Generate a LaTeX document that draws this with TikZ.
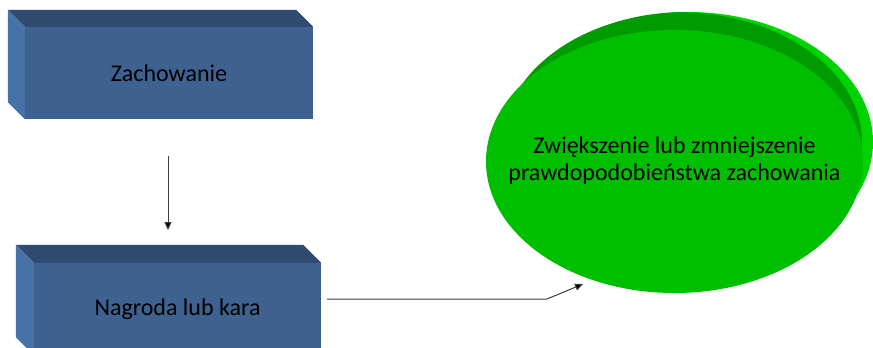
\documentclass[tikz,border=0pt]{standalone}
\usepackage{fontspec}
\setmainfont{Carlito}
\usetikzlibrary{arrows.meta,shapes.geometric}
\definecolor{bfront}{RGB}{62,97,143}
\definecolor{btop}{RGB}{47,75,112}
\definecolor{bleft}{RGB}{70,114,168}
\definecolor{gfront}{RGB}{0,190,0}
\definecolor{gtop}{RGB}{0,155,0}
\definecolor{gside}{RGB}{0,212,0}
\definecolor{arrgray}{RGB}{60,60,60}
\begin{document}
\begin{tikzpicture}[x=1pt,y=-1pt,
  boxfront/.style={fill=bfront, draw=none, minimum width=288pt, minimum height=92pt, inner sep=0pt, font=\fontsize{24}{28}\selectfont, text=black},
  topface/.style={fill=btop},
  leftface/.style={fill=bleft},
  conn/.style={draw=arrgray, line width=1pt, -{Triangle[length=8pt,width=7pt,fill=black]}},
  bubble/.style={ellipse, fill=gfront, draw=none, minimum width=377pt, minimum height=263pt, inner sep=0pt, outer sep=0pt, font=\fontsize{24}{28}\selectfont, text=black}]
\useasboundingbox (0,0) rectangle (873,348);
\clip (0,0) rectangle (873,348);
\fill[white] (0,0) rectangle (873,348);

% box 1
\node[boxfront] (b1) at (169,73) {Zachowanie};
\fill[topface] (b1.north west) -- ([shift={(-17,-17)}]b1.north west) -- ([shift={(-17,-17)}]b1.north east) -- (b1.north east) -- cycle;
\fill[leftface] (b1.north west) -- ([shift={(-17,-17)}]b1.north west) -- ([shift={(-17,-17)}]b1.south west) -- (b1.south west) -- cycle;

% box 2
\node[boxfront, minimum width=287pt] (b2) at (177.5,309) {Nagroda lub kara};
\fill[topface] (b2.north west) -- ([shift={(-18,-18)}]b2.north west) -- ([shift={(-18,-18)}]b2.north east) -- (b2.north east) -- cycle;
\fill[leftface] (b2.north west) -- ([shift={(-18,-18)}]b2.north west) -- ([shift={(-18,-18)}]b2.south west) -- (b2.south west) -- cycle;

% ellipse with depth
\fill[gside] (688,142) ellipse [x radius=185pt, y radius=130pt];
\begin{scope}
  \clip (688,142) ellipse [x radius=185pt, y radius=130pt];
  \fill[gtop] (676,142) ellipse [x radius=186pt, y radius=130pt];
\end{scope}
\node[bubble] (e) at (674.5,161.5) {\makebox[0pt][c]{\begin{tabular}{@{}c@{}}Zwiększenie lub zmniejszenie\\[-1pt]prawdopodobieństwa zachowania\end{tabular}}};

% connectors
\coordinate (p1) at (168,156);
\coordinate (p2) at (168,230);
\draw[conn] (p1) -- (p2);
\coordinate (q1) at (327,299);
\coordinate (q2) at (547,299);
\coordinate (q3) at (583,284);
\draw[conn] (q1) -- (q2) -- (q3);
\end{tikzpicture}
\end{document}
